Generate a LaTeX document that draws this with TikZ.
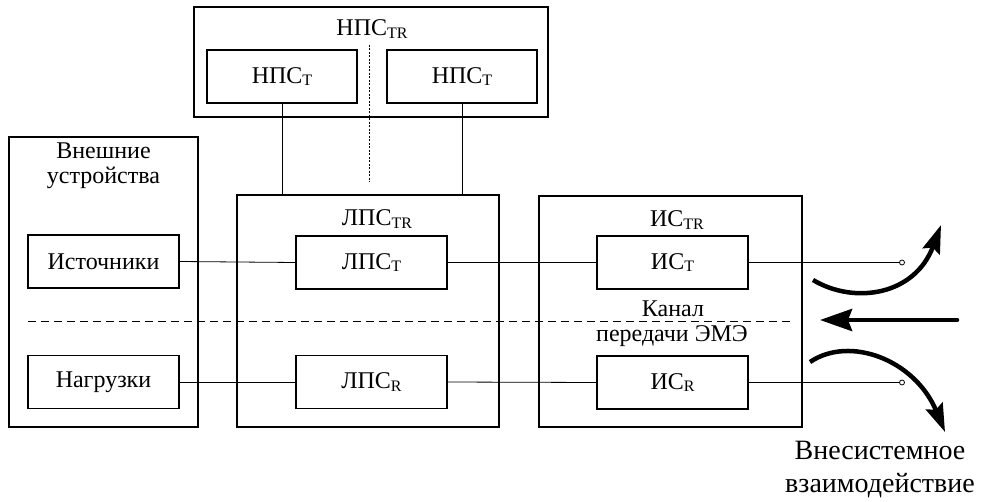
\documentclass[tikz,border=0pt]{standalone}
\usepackage{fontspec}
\setmainfont{Liberation Serif}
\usetikzlibrary{arrows.meta}
\newcommand\dnidx[1]{\raisebox{-0.25ex}{\fontsize{16}{16}\selectfont #1}}
\tikzset{
  txt/.style={font=\fontsize{24}{25}\selectfont, inner sep=0pt},
  blk/.style={draw, line width=1.6pt, inner sep=0pt, font=\fontsize{24}{25}\selectfont},
  outer/.style={draw, line width=1.6pt, inner sep=0pt},
  conn/.style={line width=0.8pt},
  sep/.style={line width=0.8pt, dash pattern=on 8pt off 5pt},
  dotl/.style={line width=0.6pt, dash pattern=on 2pt off 1.5pt},
  bigarrow/.style={line width=4.5pt, -{Stealth[length=28pt,width=18pt,inset=4pt]}},
  term/.style={circle, draw, fill=white, line width=0.8pt, inner sep=0pt, minimum size=5pt}
}
\begin{document}
\begin{tikzpicture}[x=1pt,y=-1pt]
\useasboundingbox (0,0) rectangle (981,502);
% outer containers
\node[outer, minimum width=354, minimum height=110] (nps) at (371,62) {};
\node[outer, minimum width=189, minimum height=290] (ext) at (103.5,282) {};
\node[outer, minimum width=262, minimum height=232] (lps) at (368,311) {};
\node[outer, minimum width=263, minimum height=231] (is) at (670.5,311.5) {};
% titles
\node[txt] (npst) at (372,29) {НПС\dnidx{TR}};
\node[txt, align=center] (extt) at (103.5,166) {Внешние\\устройства};
\node[txt] (lpst) at (377,219) {ЛПС\dnidx{TR}};
\node[txt] (ist) at (677,220) {ИС\dnidx{TR}};
% inner blocks
\node[blk, minimum width=150, minimum height=53] (npsa) at (282,76.5) {НПС\dnidx{T}};
\node[blk, minimum width=150, minimum height=53] (npsb) at (462,76.5) {НПС\dnidx{T}};
\node[blk, minimum width=151, minimum height=53] (src) at (103.5,261.5) {Источники};
\node[blk, minimum width=151, minimum height=53] (load) at (103.5,382) {Нагрузки};
\node[blk, minimum width=151, minimum height=53] (lpsT) at (371.5,262.5) {ЛПС\dnidx{T}};
\node[blk, minimum width=151, minimum height=53] (lpsR) at (371.5,382) {ЛПС\dnidx{R}};
\node[blk, minimum width=151, minimum height=53] (isT) at (672.5,262.5) {ИС\dnidx{T}};
\node[blk, minimum width=151, minimum height=53] (isR) at (672.5,382.5) {ИС\dnidx{R}};
% channel label
\node[txt] (kan) at (673,309) {Канал};
\node[txt] (per) at (672,336) {передачи ЭМЭ};
% separators
\coordinate (dl) at (28,321);
\coordinate (dr) at (790,321);
\draw[sep] (dl) -- (dr);
\coordinate (vt) at (369,45);
\coordinate (vb) at (369,182);
\draw[dotl] (vt) -- (vb);
% connectors
\draw[conn] (npsa.south) -- (npsa.south |- lps.north);
\draw[conn] (npsb.south) -- (npsb.south |- lps.north);
\draw[conn] (src.east) -- (lpsT.west);
\draw[conn] (lpsT.east) -- (isT.west);
\draw[conn] (load.east) -- (lpsR.west);
\draw[conn] (lpsR.east) -- (isR.west);
\node[term] (tT) at (902,262.5) {};
\node[term] (tR) at (902,382.5) {};
\draw[conn] (isT.east) -- (tT.west);
\draw[conn] (isR.east) -- (tR.west);
% interaction arrows
\coordinate (a1s) at (813,280);
\coordinate (a1e) at (941,225);
\draw[bigarrow] (a1s) .. controls (855,305) and (915,295) .. (a1e);
\coordinate (a2s) at (810,362);
\coordinate (a2e) at (945,432);
\draw[bigarrow] (a2s) .. controls (850,335) and (915,360) .. (a2e);
\coordinate (a3s) at (957,320);
\coordinate (a3e) at (820,320);
\draw[bigarrow, line cap=round, -{Stealth[length=32pt,width=22pt,inset=4pt]}] (a3s) -- (a3e);
% bottom label
\node[txt, align=center, font=\fontsize{28}{33}\selectfont] (ext2) at (880,470) {Внесистемное\\взаимодействие};
\end{tikzpicture}
\end{document}
